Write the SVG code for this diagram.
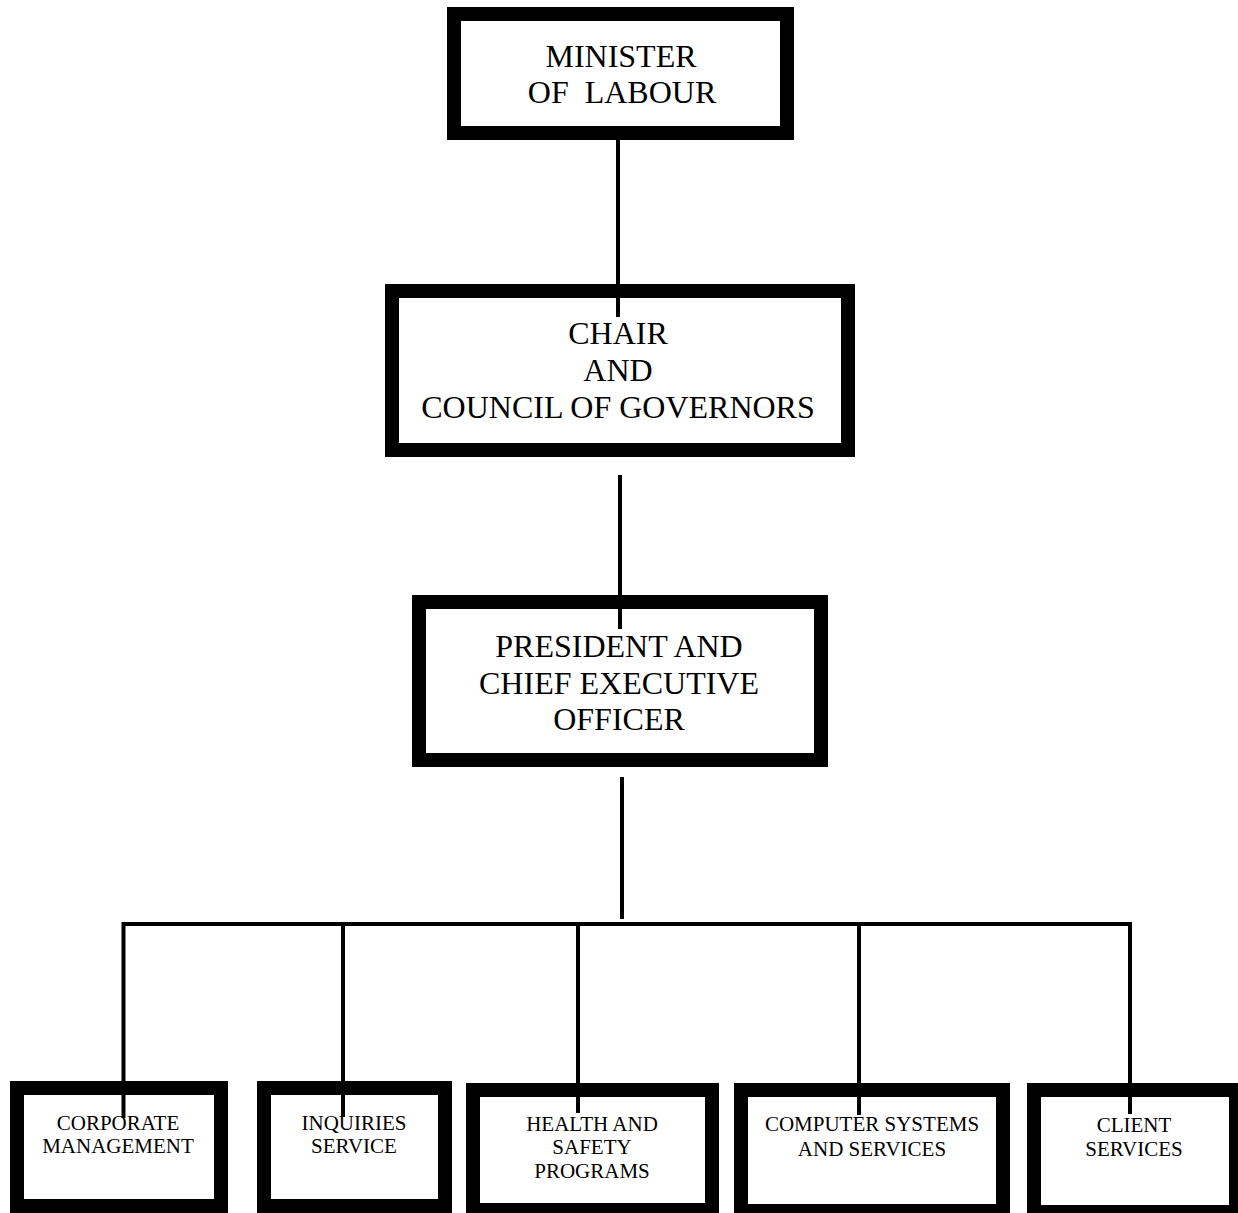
<svg xmlns="http://www.w3.org/2000/svg" width="1238" height="1213" viewBox="0 0 1238 1213">
<style>
.box{fill:#fff;stroke:#000;stroke-width:14}
text{font-family:'Liberation Serif','Times New Roman',Times,'DejaVu Serif',serif;fill:#000;text-anchor:middle}
.big{font-size:32px;white-space:pre}
.sm{font-size:21px}
.ln{stroke:#000;stroke-width:4;fill:none}
</style>
<rect width="1238" height="1213" fill="#fff"/>
<g font-family="Liberation Serif, Times New Roman, serif">
<g id="minister">
<rect class="box" x="454" y="14" width="333" height="119"/>
<text class="big" x="621" y="67">MINISTER</text>
<text class="big" x="622" y="103">OF  LABOUR</text>
</g>
<g id="chair">
<rect class="box" x="392" y="291" width="456" height="159"/>
<text class="big" x="618" y="344">CHAIR</text>
<text class="big" x="618" y="381">AND</text>
<text class="big" x="618" y="418">COUNCIL OF GOVERNORS</text>
</g>
<g id="president">
<rect class="box" x="419" y="602" width="402" height="158"/>
<text class="big" x="619" y="657">PRESIDENT AND</text>
<text class="big" x="619" y="694">CHIEF EXECUTIVE</text>
<text class="big" x="619" y="730">OFFICER</text>
</g>
<g id="corporate">
<rect class="box" x="17" y="1088" width="204" height="118"/>
<text class="sm" x="118" y="1130">CORPORATE</text>
<text class="sm" x="118" y="1153">MANAGEMENT</text>
</g>
<g id="inquiries">
<rect class="box" x="264" y="1088" width="181" height="118"/>
<text class="sm" x="354" y="1130">INQUIRIES</text>
<text class="sm" x="354" y="1153">SERVICE</text>
</g>
<g id="health">
<rect class="box" x="473" y="1090" width="239" height="120"/>
<text class="sm" x="592" y="1131">HEALTH AND</text>
<text class="sm" x="592" y="1154">SAFETY</text>
<text class="sm" x="592" y="1178">PROGRAMS</text>
</g>
<g id="computer">
<rect class="box" x="741" y="1090" width="262" height="121"/>
<text class="sm" x="872" y="1131">COMPUTER SYSTEMS</text>
<text class="sm" x="872" y="1156">AND SERVICES</text>
</g>
<g id="client">
<rect class="box" x="1034" y="1090" width="202" height="122"/>
<text class="sm" x="1134" y="1132">CLIENT</text>
<text class="sm" x="1134" y="1156">SERVICES</text>
</g>
</g>
<g id="connectors">
<line class="ln" x1="618" y1="126" x2="618" y2="317"/>
<line class="ln" x1="620" y1="475" x2="620" y2="629"/>
<line class="ln" x1="622" y1="777" x2="622" y2="919"/>
<polyline class="ln" points="123.5,1118 123.5,924 1130,924 1130,1114"/>
<line class="ln" x1="343" y1="924" x2="343" y2="1117"/>
<line class="ln" x1="578" y1="924" x2="578" y2="1113"/>
<line class="ln" x1="859" y1="924" x2="859" y2="1115"/>
</g>
</svg>
